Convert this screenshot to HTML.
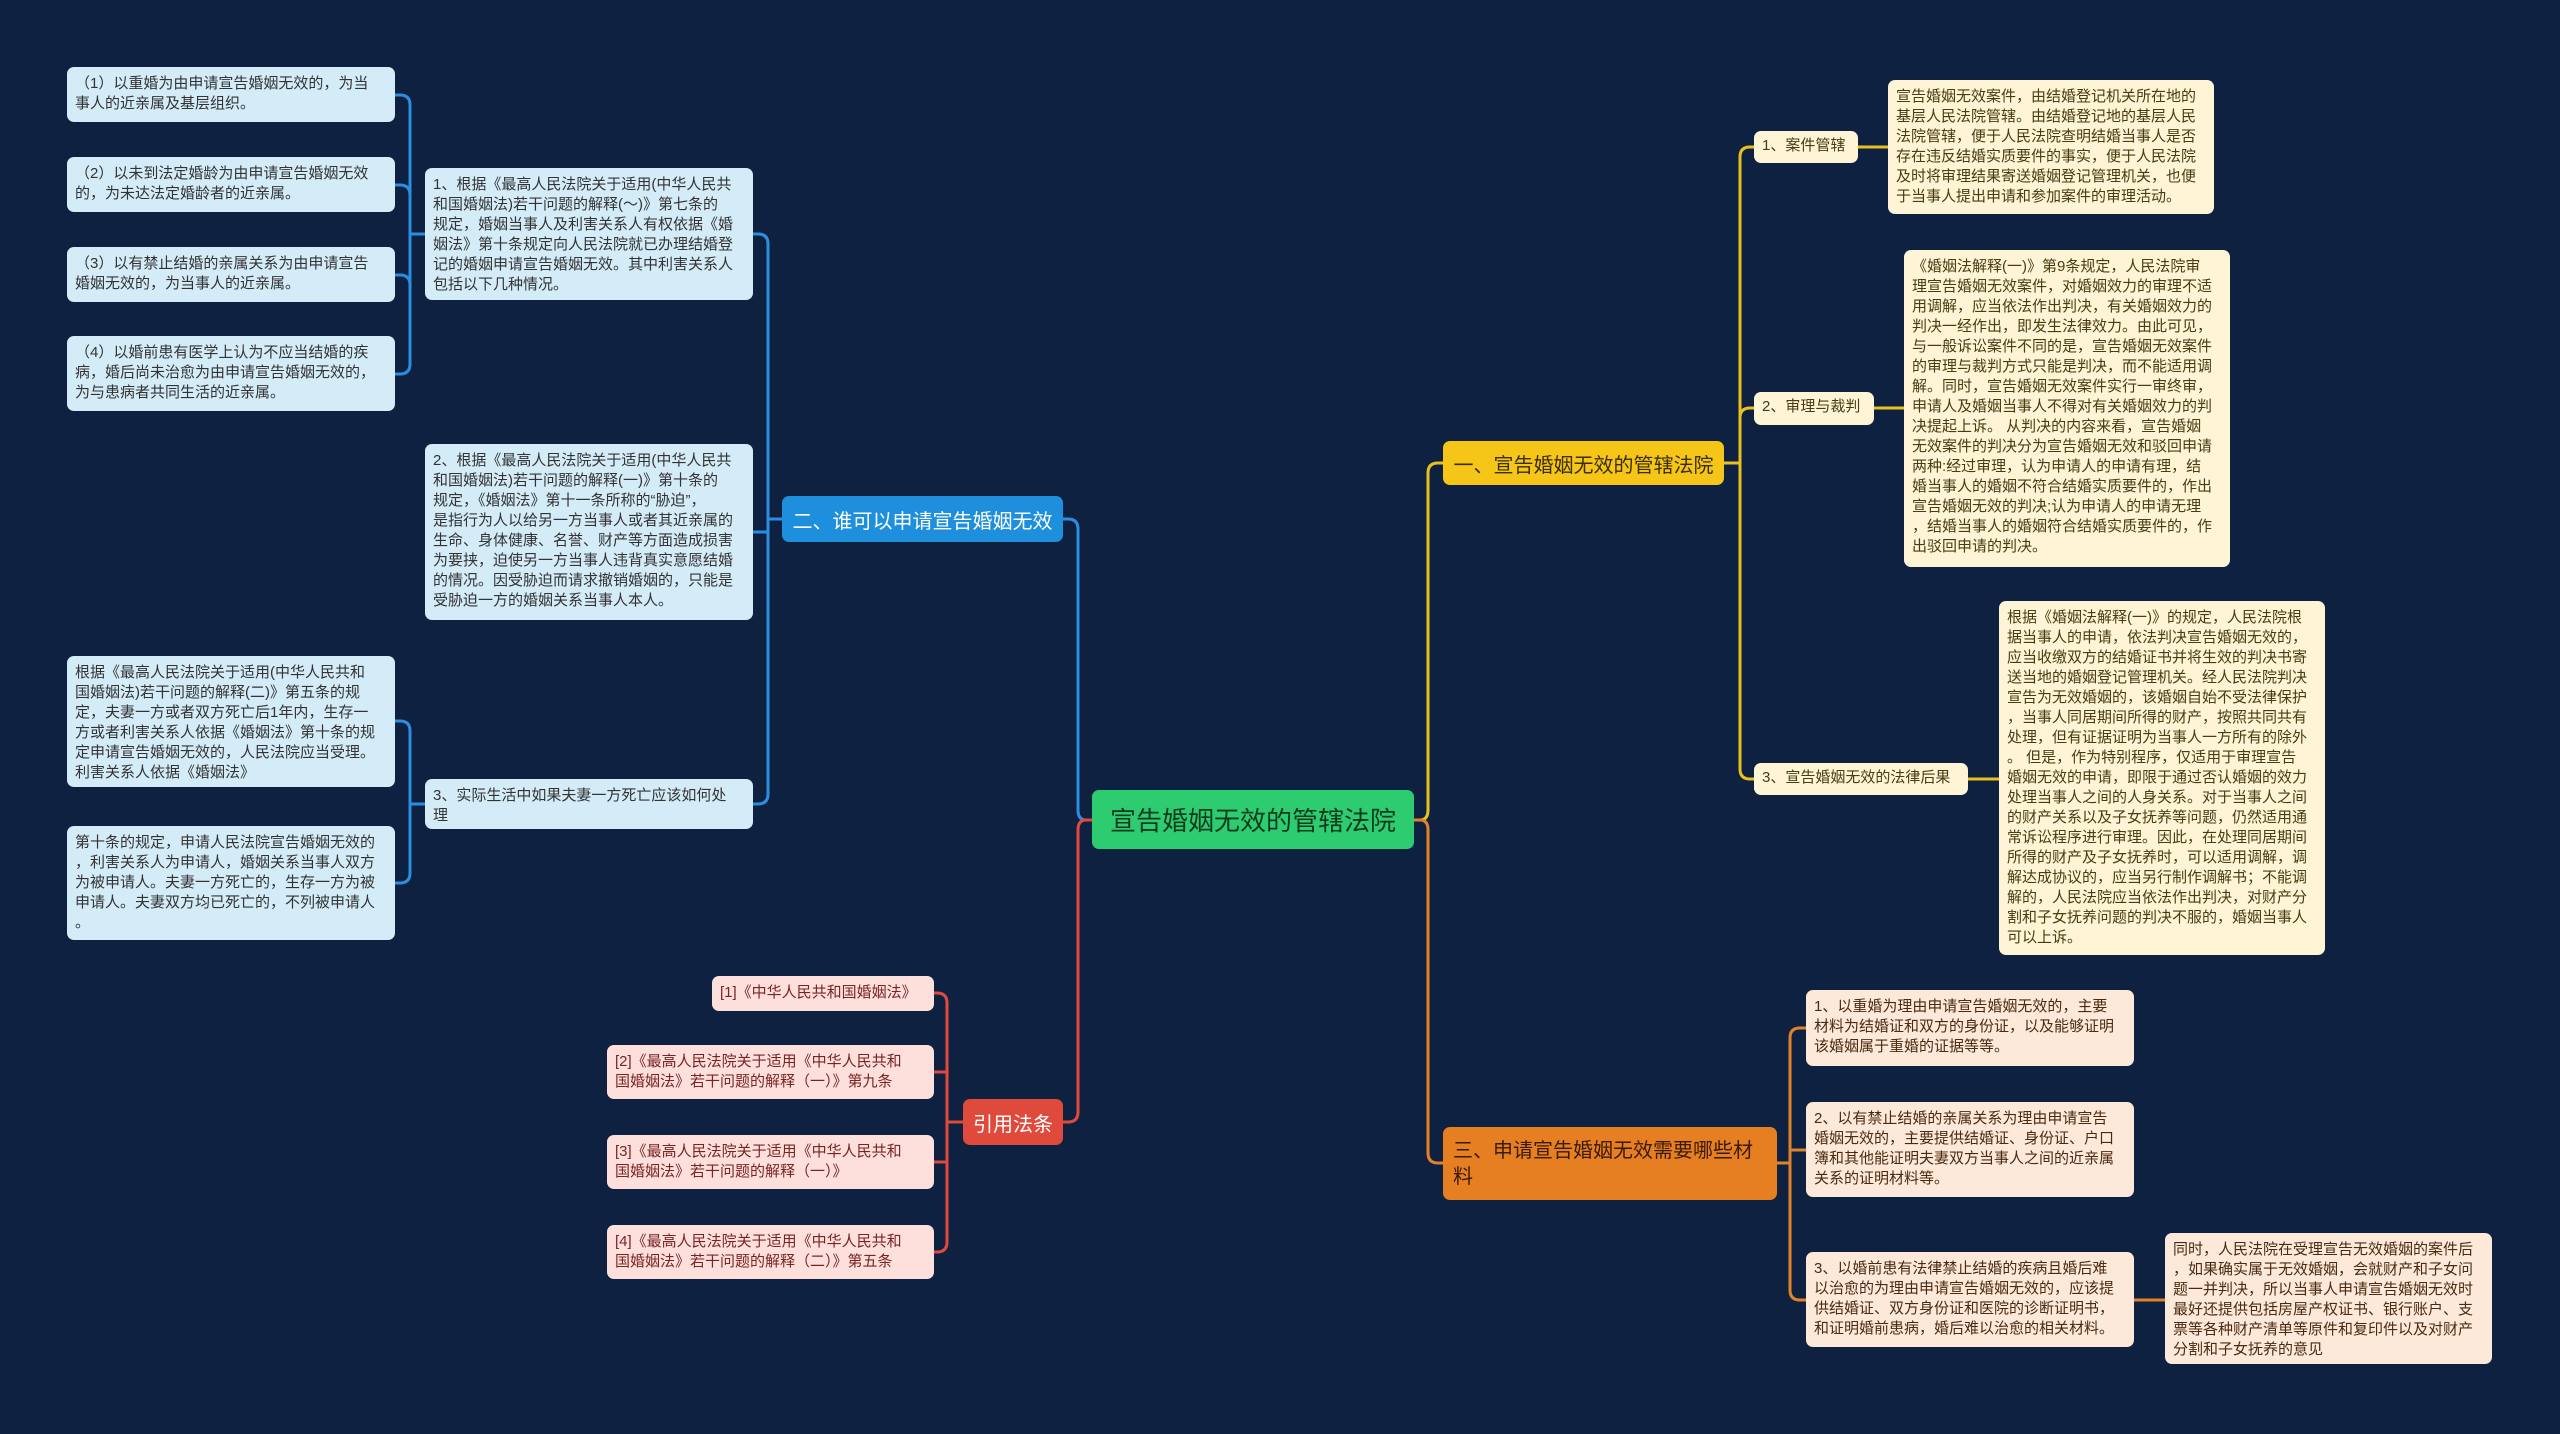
<!DOCTYPE html>
<html><head><meta charset="utf-8"><style>
body{margin:0;width:2560px;height:1434px;background:#0e2140;position:relative;overflow:hidden;font-family:"Liberation Sans","Noto Sans CJK SC",sans-serif;}
.b{position:absolute;box-sizing:border-box;border-radius:7px;font-size:15px;line-height:20px;padding:7px 8px;color:#333;}
.lb{background:#d3ecf8;}
.yl{background:#fdf5d6;color:#4a3b10;}
.or{background:#fde9d9;color:#4a2a10;}
.pk{background:#fde0dc;color:#7a2323;}
.m{position:absolute;box-sizing:border-box;border-radius:7px;display:flex;align-items:center;}
svg{position:absolute;left:0;top:0}
</style></head><body>
<svg width="2560" height="1434" fill="none" stroke-width="3">
<g stroke="#2b8ee0">
<path d="M1092 820 H1086 Q1078 820 1078 810 V529 Q1078 519 1068 519 H1063"/>
<path d="M782 519 H768 M768 244 Q768 234 758 234 H753 M768 244 V794 Q768 804 758 804 H753 M768 532 H753"/>
<path d="M425 234 H410 M410 105 Q410 95 400 95 H395 M410 105 V364 Q410 374 400 374 H395 M410 195 Q410 185 400 185 H395 M410 285 Q410 275 400 275 H395"/>
<path d="M425 804 H410 M410 731 Q410 721 400 721 H395 M410 731 V873 Q410 883 400 883 H395"/>
</g>
<g stroke="#e04a3c">
<path d="M1092 820 H1086 Q1078 820 1078 830 V1112 Q1078 1122 1068 1122 H1063"/>
<path d="M963 1122 H947 M947 1003 Q947 993 937 993 H934 M947 1003 V1242 Q947 1252 937 1252 H934 M947 1072 H934 M947 1162 H934"/>
</g>
<g stroke="#e8c020">
<path d="M1414 820 H1420 Q1428 820 1428 810 V473 Q1428 463 1438 463 H1443"/>
<path d="M1724 463 H1740 M1740 157 Q1740 147 1750 147 H1754 M1740 157 V769 Q1740 779 1750 779 H1754 M1740 418 Q1740 408 1750 408 H1754"/>
<path d="M1858 147 H1888 M1874 408 H1904 M1968 779 H1999"/>
</g>
<g stroke="#e0822a">
<path d="M1414 820 H1420 Q1428 820 1428 830 V1153 Q1428 1163 1438 1163 H1443"/>
<path d="M1777 1163 H1790 M1790 1038 Q1790 1028 1800 1028 H1806 M1790 1038 V1290 Q1790 1300 1800 1300 H1806 M1790 1150 H1806 M2134 1300 H2165"/>
</g>
</svg>

<div class="m" style="left:1092px;top:790px;width:322px;height:59px;background:#2ecc71;color:#0d3b1e;font-size:26px;justify-content:center;">宣告婚姻无效的管辖法院</div>
<div class="m" style="left:782px;top:496px;width:281px;height:46px;background:#1e8fdc;color:#fff;font-size:20px;justify-content:center;">二、谁可以申请宣告婚姻无效</div>
<div class="m" style="left:963px;top:1099px;width:100px;height:46px;background:#e04a3c;color:#fff;font-size:20px;justify-content:center;">引用法条</div>
<div class="m" style="left:1443px;top:441px;width:281px;height:44px;background:#f5c518;color:#3a2e00;font-size:20px;justify-content:center;">一、宣告婚姻无效的管辖法院</div>
<div class="m" style="left:1443px;top:1127px;width:334px;height:73px;background:#e67e22;color:#3a1a00;font-size:20px;line-height:26px;padding:0 10px;">三、申请宣告婚姻无效需要哪些材料</div>

<div class="b lb" style="left:67px;top:67px;width:328px;height:55px;">（1）以重婚为由申请宣告婚姻无效的，为当<br>事人的近亲属及基层组织。</div>
<div class="b lb" style="left:67px;top:157px;width:328px;height:55px;">（2）以未到法定婚龄为由申请宣告婚姻无效<br>的，为未达法定婚龄者的近亲属。</div>
<div class="b lb" style="left:67px;top:247px;width:328px;height:55px;">（3）以有禁止结婚的亲属关系为由申请宣告<br>婚姻无效的，为当事人的近亲属。</div>
<div class="b lb" style="left:67px;top:336px;width:328px;height:75px;">（4）以婚前患有医学上认为不应当结婚的疾<br>病，婚后尚未治愈为由申请宣告婚姻无效的，<br>为与患病者共同生活的近亲属。</div>
<div class="b lb" style="left:425px;top:168px;width:328px;height:132px;">1、根据《最高人民法院关于适用(中华人民共<br>和国婚姻法)若干问题的解释(～)》第七条的<br>规定，婚姻当事人及利害关系人有权依据《婚<br>姻法》第十条规定向人民法院就已办理结婚登<br>记的婚姻申请宣告婚姻无效。其中利害关系人<br>包括以下几种情况。</div>
<div class="b lb" style="left:425px;top:444px;width:328px;height:176px;line-height:20px;">2、根据《最高人民法院关于适用(中华人民共<br>和国婚姻法)若干问题的解释(一)》第十条的<br>规定，《婚姻法》第十一条所称的“胁迫”，<br>是指行为人以给另一方当事人或者其近亲属的<br>生命、身体健康、名誉、财产等方面造成损害<br>为要挟，迫使另一方当事人违背真实意愿结婚<br>的情况。因受胁迫而请求撤销婚姻的，只能是<br>受胁迫一方的婚姻关系当事人本人。</div>
<div class="b lb" style="left:425px;top:779px;width:328px;height:50px;">3、实际生活中如果夫妻一方死亡应该如何处<br>理</div>
<div class="b lb" style="left:67px;top:656px;width:328px;height:131px;">根据《最高人民法院关于适用(中华人民共和<br>国婚姻法)若干问题的解释(二)》第五条的规<br>定，夫妻一方或者双方死亡后1年内，生存一<br>方或者利害关系人依据《婚姻法》第十条的规<br>定申请宣告婚姻无效的，人民法院应当受理。<br>利害关系人依据《婚姻法》</div>
<div class="b lb" style="left:67px;top:826px;width:328px;height:114px;">第十条的规定，申请人民法院宣告婚姻无效的<br>，利害关系人为申请人，婚姻关系当事人双方<br>为被申请人。夫妻一方死亡的，生存一方为被<br>申请人。夫妻双方均已死亡的，不列被申请人<br>。</div>

<div class="b pk" style="left:712px;top:976px;width:222px;height:35px;">[1]《中华人民共和国婚姻法》</div>
<div class="b pk" style="left:607px;top:1045px;width:327px;height:54px;">[2]《最高人民法院关于适用《中华人民共和<br>国婚姻法》若干问题的解释（一）》第九条</div>
<div class="b pk" style="left:607px;top:1135px;width:327px;height:54px;">[3]《最高人民法院关于适用《中华人民共和<br>国婚姻法》若干问题的解释（一）》</div>
<div class="b pk" style="left:607px;top:1225px;width:327px;height:54px;">[4]《最高人民法院关于适用《中华人民共和<br>国婚姻法》若干问题的解释（二）》第五条</div>

<div class="b yl" style="left:1754px;top:131px;width:104px;height:32px;padding:5px 8px;">1、案件管辖</div>
<div class="b yl" style="left:1754px;top:392px;width:120px;height:33px;padding:5px 8px;">2、审理与裁判</div>
<div class="b yl" style="left:1754px;top:763px;width:214px;height:32px;padding:5px 8px;">3、宣告婚姻无效的法律后果</div>
<div class="b yl" style="left:1888px;top:80px;width:326px;height:134px;">宣告婚姻无效案件，由结婚登记机关所在地的<br>基层人民法院管辖。由结婚登记地的基层人民<br>法院管辖，便于人民法院查明结婚当事人是否<br>存在违反结婚实质要件的事实，便于人民法院<br>及时将审理结果寄送婚姻登记管理机关，也便<br>于当事人提出申请和参加案件的审理活动。</div>
<div class="b yl" style="left:1904px;top:250px;width:326px;height:317px;">《婚姻法解释(一)》第9条规定，人民法院审<br>理宣告婚姻无效案件，对婚姻效力的审理不适<br>用调解，应当依法作出判决，有关婚姻效力的<br>判决一经作出，即发生法律效力。由此可见，<br>与一般诉讼案件不同的是，宣告婚姻无效案件<br>的审理与裁判方式只能是判决，而不能适用调<br>解。同时，宣告婚姻无效案件实行一审终审，<br>申请人及婚姻当事人不得对有关婚姻效力的判<br>决提起上诉。 从判决的内容来看，宣告婚姻<br>无效案件的判决分为宣告婚姻无效和驳回申请<br>两种:经过审理，认为申请人的申请有理，结<br>婚当事人的婚姻不符合结婚实质要件的，作出<br>宣告婚姻无效的判决;认为申请人的申请无理<br>，结婚当事人的婚姻符合结婚实质要件的，作<br>出驳回申请的判决。</div>
<div class="b yl" style="left:1999px;top:601px;width:326px;height:354px;">根据《婚姻法解释(一)》的规定，人民法院根<br>据当事人的申请，依法判决宣告婚姻无效的，<br>应当收缴双方的结婚证书并将生效的判决书寄<br>送当地的婚姻登记管理机关。经人民法院判决<br>宣告为无效婚姻的，该婚姻自始不受法律保护<br>，当事人同居期间所得的财产，按照共同共有<br>处理，但有证据证明为当事人一方所有的除外<br>。 但是，作为特别程序，仅适用于审理宣告<br>婚姻无效的申请，即限于通过否认婚姻的效力<br>处理当事人之间的人身关系。对于当事人之间<br>的财产关系以及子女抚养等问题，仍然适用通<br>常诉讼程序进行审理。因此，在处理同居期间<br>所得的财产及子女抚养时，可以适用调解，调<br>解达成协议的，应当另行制作调解书；不能调<br>解的，人民法院应当依法作出判决，对财产分<br>割和子女抚养问题的判决不服的，婚姻当事人<br>可以上诉。</div>

<div class="b or" style="left:1806px;top:990px;width:328px;height:76px;">1、以重婚为理由申请宣告婚姻无效的，主要<br>材料为结婚证和双方的身份证，以及能够证明<br>该婚姻属于重婚的证据等等。</div>
<div class="b or" style="left:1806px;top:1102px;width:328px;height:95px;">2、以有禁止结婚的亲属关系为理由申请宣告<br>婚姻无效的，主要提供结婚证、身份证、户口<br>簿和其他能证明夫妻双方当事人之间的近亲属<br>关系的证明材料等。</div>
<div class="b or" style="left:1806px;top:1252px;width:328px;height:95px;">3、以婚前患有法律禁止结婚的疾病且婚后难<br>以治愈的为理由申请宣告婚姻无效的，应该提<br>供结婚证、双方身份证和医院的诊断证明书，<br>和证明婚前患病，婚后难以治愈的相关材料。</div>
<div class="b or" style="left:2165px;top:1233px;width:327px;height:131px;">同时，人民法院在受理宣告无效婚姻的案件后<br>，如果确实属于无效婚姻，会就财产和子女问<br>题一并判决，所以当事人申请宣告婚姻无效时<br>最好还提供包括房屋产权证书、银行账户、支<br>票等各种财产清单等原件和复印件以及对财产<br>分割和子女抚养的意见</div>
</body></html>
